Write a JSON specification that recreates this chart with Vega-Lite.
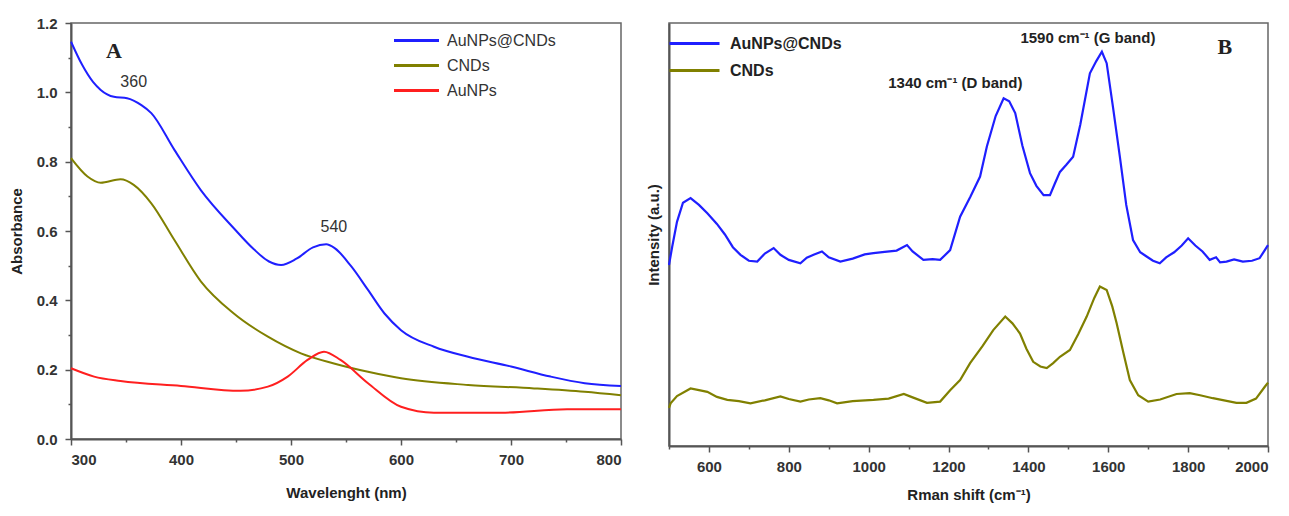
{
  "$schema": "https://vega.github.io/schema/vega-lite/v6.json",
  "padding": {"left": 8, "top": 15, "right": 5, "bottom": 5},
  "background": "white",
  "bounds": "flush",
  "spacing": 48,
  "resolve": {"scale": {"color": "independent"}, "legend": {"color": "independent"}},
  "config": {
    "font": "Liberation Sans",
    "view": {"stroke": "#666", "strokeWidth": 1.5},
    "axis": {
      "domainColor": "#555", "domainWidth": 2, "tickColor": "#555", "tickWidth": 1.5,
      "labelFont": "Liberation Sans", "labelFontWeight": "bold", "labelFontSize": 15, "labelColor": "#333",
      "titleFont": "Liberation Sans", "titleFontWeight": "bold", "titleFontSize": 15, "titleColor": "#222",
      "grid": false
    }
  },
  "datasets": {
    "uv": [
      {"wl": 300, "abs": 1.146, "sample": "AuNPs@CNDs"}, {"wl": 310, "abs": 1.08, "sample": "AuNPs@CNDs"}, {"wl": 320, "abs": 1.03, "sample": "AuNPs@CNDs"}, {"wl": 327, "abs": 1.007, "sample": "AuNPs@CNDs"}, {"wl": 339, "abs": 0.987, "sample": "AuNPs@CNDs"}, {"wl": 351, "abs": 0.983, "sample": "AuNPs@CNDs"}, {"wl": 364, "abs": 0.963, "sample": "AuNPs@CNDs"}, {"wl": 373, "abs": 0.94, "sample": "AuNPs@CNDs"}, {"wl": 394, "abs": 0.834, "sample": "AuNPs@CNDs"}, {"wl": 418, "abs": 0.718, "sample": "AuNPs@CNDs"}, {"wl": 448, "abs": 0.608, "sample": "AuNPs@CNDs"}, {"wl": 466, "abs": 0.548, "sample": "AuNPs@CNDs"}, {"wl": 480, "abs": 0.512, "sample": "AuNPs@CNDs"}, {"wl": 491, "abs": 0.502, "sample": "AuNPs@CNDs"}, {"wl": 505, "abs": 0.52, "sample": "AuNPs@CNDs"}, {"wl": 520, "abs": 0.553, "sample": "AuNPs@CNDs"}, {"wl": 532, "abs": 0.562, "sample": "AuNPs@CNDs"}, {"wl": 540, "abs": 0.55, "sample": "AuNPs@CNDs"}, {"wl": 555, "abs": 0.497, "sample": "AuNPs@CNDs"}, {"wl": 570, "abs": 0.43, "sample": "AuNPs@CNDs"}, {"wl": 585, "abs": 0.362, "sample": "AuNPs@CNDs"}, {"wl": 600, "abs": 0.314, "sample": "AuNPs@CNDs"}, {"wl": 630, "abs": 0.266, "sample": "AuNPs@CNDs"}, {"wl": 661, "abs": 0.237, "sample": "AuNPs@CNDs"}, {"wl": 700, "abs": 0.209, "sample": "AuNPs@CNDs"}, {"wl": 736, "abs": 0.18, "sample": "AuNPs@CNDs"}, {"wl": 767, "abs": 0.161, "sample": "AuNPs@CNDs"}, {"wl": 800, "abs": 0.153, "sample": "AuNPs@CNDs"},
      {"wl": 300, "abs": 0.81, "sample": "CNDs"}, {"wl": 315, "abs": 0.757, "sample": "CNDs"}, {"wl": 327, "abs": 0.739, "sample": "CNDs"}, {"wl": 345, "abs": 0.749, "sample": "CNDs"}, {"wl": 357, "abs": 0.733, "sample": "CNDs"}, {"wl": 373, "abs": 0.68, "sample": "CNDs"}, {"wl": 394, "abs": 0.574, "sample": "CNDs"}, {"wl": 418, "abs": 0.455, "sample": "CNDs"}, {"wl": 448, "abs": 0.362, "sample": "CNDs"}, {"wl": 479, "abs": 0.295, "sample": "CNDs"}, {"wl": 509, "abs": 0.247, "sample": "CNDs"}, {"wl": 539, "abs": 0.218, "sample": "CNDs"}, {"wl": 570, "abs": 0.194, "sample": "CNDs"}, {"wl": 600, "abs": 0.175, "sample": "CNDs"}, {"wl": 661, "abs": 0.156, "sample": "CNDs"}, {"wl": 721, "abs": 0.146, "sample": "CNDs"}, {"wl": 767, "abs": 0.136, "sample": "CNDs"}, {"wl": 800, "abs": 0.126, "sample": "CNDs"},
      {"wl": 300, "abs": 0.204, "sample": "AuNPs"}, {"wl": 321, "abs": 0.18, "sample": "AuNPs"}, {"wl": 345, "abs": 0.167, "sample": "AuNPs"}, {"wl": 400, "abs": 0.153, "sample": "AuNPs"}, {"wl": 454, "abs": 0.139, "sample": "AuNPs"}, {"wl": 479, "abs": 0.151, "sample": "AuNPs"}, {"wl": 497, "abs": 0.18, "sample": "AuNPs"}, {"wl": 515, "abs": 0.228, "sample": "AuNPs"}, {"wl": 530, "abs": 0.252, "sample": "AuNPs"}, {"wl": 545, "abs": 0.228, "sample": "AuNPs"}, {"wl": 570, "abs": 0.161, "sample": "AuNPs"}, {"wl": 600, "abs": 0.093, "sample": "AuNPs"}, {"wl": 630, "abs": 0.076, "sample": "AuNPs"}, {"wl": 691, "abs": 0.076, "sample": "AuNPs"}, {"wl": 751, "abs": 0.086, "sample": "AuNPs"}, {"wl": 800, "abs": 0.086, "sample": "AuNPs"}
    ],
    "uvNum": [
      {"wl": 357, "abs": 1.03, "label": "360"},
      {"wl": 539, "abs": 0.611, "label": "540"}
    ],
    "uvLetter": [
      {"wl": 339, "abs": 1.12, "label": "A"}
    ],
    "raman": [
      {"s": 500, "i": 42.8, "sample": "AuNPs@CNDs"}, {"s": 508, "i": 47.1, "sample": "AuNPs@CNDs"}, {"s": 520, "i": 53, "sample": "AuNPs@CNDs"}, {"s": 535, "i": 57.5, "sample": "AuNPs@CNDs"}, {"s": 554, "i": 58.6, "sample": "AuNPs@CNDs"}, {"s": 575, "i": 57, "sample": "AuNPs@CNDs"}, {"s": 596, "i": 55, "sample": "AuNPs@CNDs"}, {"s": 620, "i": 52.5, "sample": "AuNPs@CNDs"}, {"s": 640, "i": 50, "sample": "AuNPs@CNDs"}, {"s": 660, "i": 47, "sample": "AuNPs@CNDs"}, {"s": 679, "i": 45.2, "sample": "AuNPs@CNDs"}, {"s": 700, "i": 43.8, "sample": "AuNPs@CNDs"}, {"s": 721, "i": 43.6, "sample": "AuNPs@CNDs"}, {"s": 740, "i": 45.5, "sample": "AuNPs@CNDs"}, {"s": 762, "i": 46.8, "sample": "AuNPs@CNDs"}, {"s": 779, "i": 45.2, "sample": "AuNPs@CNDs"}, {"s": 800, "i": 44, "sample": "AuNPs@CNDs"}, {"s": 829, "i": 43.2, "sample": "AuNPs@CNDs"}, {"s": 845, "i": 44.5, "sample": "AuNPs@CNDs"}, {"s": 862, "i": 45.2, "sample": "AuNPs@CNDs"}, {"s": 883, "i": 46, "sample": "AuNPs@CNDs"}, {"s": 900, "i": 44.6, "sample": "AuNPs@CNDs"}, {"s": 929, "i": 43.6, "sample": "AuNPs@CNDs"}, {"s": 960, "i": 44.3, "sample": "AuNPs@CNDs"}, {"s": 990, "i": 45.3, "sample": "AuNPs@CNDs"}, {"s": 1012, "i": 45.6, "sample": "AuNPs@CNDs"}, {"s": 1040, "i": 45.9, "sample": "AuNPs@CNDs"}, {"s": 1070, "i": 46.2, "sample": "AuNPs@CNDs"}, {"s": 1096, "i": 47.5, "sample": "AuNPs@CNDs"}, {"s": 1110, "i": 46, "sample": "AuNPs@CNDs"}, {"s": 1137, "i": 44, "sample": "AuNPs@CNDs"}, {"s": 1160, "i": 44.2, "sample": "AuNPs@CNDs"}, {"s": 1179, "i": 44, "sample": "AuNPs@CNDs"}, {"s": 1204, "i": 46.3, "sample": "AuNPs@CNDs"}, {"s": 1229, "i": 54.2, "sample": "AuNPs@CNDs"}, {"s": 1255, "i": 59, "sample": "AuNPs@CNDs"}, {"s": 1279, "i": 63.7, "sample": "AuNPs@CNDs"}, {"s": 1296, "i": 70.8, "sample": "AuNPs@CNDs"}, {"s": 1318, "i": 78, "sample": "AuNPs@CNDs"}, {"s": 1338, "i": 82.2, "sample": "AuNPs@CNDs"}, {"s": 1352, "i": 81.5, "sample": "AuNPs@CNDs"}, {"s": 1367, "i": 78.7, "sample": "AuNPs@CNDs"}, {"s": 1385, "i": 71, "sample": "AuNPs@CNDs"}, {"s": 1404, "i": 64.5, "sample": "AuNPs@CNDs"}, {"s": 1420, "i": 61.5, "sample": "AuNPs@CNDs"}, {"s": 1438, "i": 59.3, "sample": "AuNPs@CNDs"}, {"s": 1454, "i": 59.3, "sample": "AuNPs@CNDs"}, {"s": 1466, "i": 62, "sample": "AuNPs@CNDs"}, {"s": 1479, "i": 64.8, "sample": "AuNPs@CNDs"}, {"s": 1495, "i": 66.5, "sample": "AuNPs@CNDs"}, {"s": 1512, "i": 68.4, "sample": "AuNPs@CNDs"}, {"s": 1530, "i": 76, "sample": "AuNPs@CNDs"}, {"s": 1554, "i": 88.1, "sample": "AuNPs@CNDs"}, {"s": 1570, "i": 91, "sample": "AuNPs@CNDs"}, {"s": 1584, "i": 93.2, "sample": "AuNPs@CNDs"}, {"s": 1596, "i": 90.5, "sample": "AuNPs@CNDs"}, {"s": 1612, "i": 80, "sample": "AuNPs@CNDs"}, {"s": 1629, "i": 68.4, "sample": "AuNPs@CNDs"}, {"s": 1645, "i": 57, "sample": "AuNPs@CNDs"}, {"s": 1662, "i": 48.7, "sample": "AuNPs@CNDs"}, {"s": 1680, "i": 45.8, "sample": "AuNPs@CNDs"}, {"s": 1696, "i": 44.8, "sample": "AuNPs@CNDs"}, {"s": 1712, "i": 43.8, "sample": "AuNPs@CNDs"}, {"s": 1729, "i": 43.2, "sample": "AuNPs@CNDs"}, {"s": 1745, "i": 44.6, "sample": "AuNPs@CNDs"}, {"s": 1765, "i": 45.8, "sample": "AuNPs@CNDs"}, {"s": 1784, "i": 47.4, "sample": "AuNPs@CNDs"}, {"s": 1800, "i": 49.1, "sample": "AuNPs@CNDs"}, {"s": 1818, "i": 47.4, "sample": "AuNPs@CNDs"}, {"s": 1836, "i": 46, "sample": "AuNPs@CNDs"}, {"s": 1854, "i": 44, "sample": "AuNPs@CNDs"}, {"s": 1870, "i": 44.6, "sample": "AuNPs@CNDs"}, {"s": 1880, "i": 43.4, "sample": "AuNPs@CNDs"}, {"s": 1896, "i": 43.6, "sample": "AuNPs@CNDs"}, {"s": 1915, "i": 44.1, "sample": "AuNPs@CNDs"}, {"s": 1937, "i": 43.6, "sample": "AuNPs@CNDs"}, {"s": 1960, "i": 43.8, "sample": "AuNPs@CNDs"}, {"s": 1979, "i": 44.4, "sample": "AuNPs@CNDs"}, {"s": 1992, "i": 46.3, "sample": "AuNPs@CNDs"}, {"s": 2000, "i": 47.5, "sample": "AuNPs@CNDs"},
      {"s": 500, "i": 9, "sample": "CNDs"}, {"s": 504, "i": 10.1, "sample": "CNDs"}, {"s": 520, "i": 11.8, "sample": "CNDs"}, {"s": 554, "i": 13.6, "sample": "CNDs"}, {"s": 575, "i": 13.2, "sample": "CNDs"}, {"s": 596, "i": 12.8, "sample": "CNDs"}, {"s": 620, "i": 11.6, "sample": "CNDs"}, {"s": 646, "i": 10.9, "sample": "CNDs"}, {"s": 675, "i": 10.6, "sample": "CNDs"}, {"s": 704, "i": 10.1, "sample": "CNDs"}, {"s": 740, "i": 10.8, "sample": "CNDs"}, {"s": 779, "i": 11.7, "sample": "CNDs"}, {"s": 800, "i": 11.1, "sample": "CNDs"}, {"s": 829, "i": 10.5, "sample": "CNDs"}, {"s": 850, "i": 11, "sample": "CNDs"}, {"s": 879, "i": 11.3, "sample": "CNDs"}, {"s": 900, "i": 10.8, "sample": "CNDs"}, {"s": 921, "i": 10.1, "sample": "CNDs"}, {"s": 960, "i": 10.6, "sample": "CNDs"}, {"s": 1012, "i": 10.9, "sample": "CNDs"}, {"s": 1050, "i": 11.2, "sample": "CNDs"}, {"s": 1088, "i": 12.3, "sample": "CNDs"}, {"s": 1110, "i": 11.5, "sample": "CNDs"}, {"s": 1146, "i": 10.2, "sample": "CNDs"}, {"s": 1179, "i": 10.5, "sample": "CNDs"}, {"s": 1204, "i": 13.2, "sample": "CNDs"}, {"s": 1229, "i": 15.6, "sample": "CNDs"}, {"s": 1254, "i": 19.6, "sample": "CNDs"}, {"s": 1285, "i": 23.6, "sample": "CNDs"}, {"s": 1312, "i": 27.4, "sample": "CNDs"}, {"s": 1342, "i": 30.6, "sample": "CNDs"}, {"s": 1360, "i": 29, "sample": "CNDs"}, {"s": 1379, "i": 26.6, "sample": "CNDs"}, {"s": 1395, "i": 23, "sample": "CNDs"}, {"s": 1412, "i": 19.9, "sample": "CNDs"}, {"s": 1430, "i": 18.8, "sample": "CNDs"}, {"s": 1446, "i": 18.4, "sample": "CNDs"}, {"s": 1462, "i": 19.6, "sample": "CNDs"}, {"s": 1479, "i": 21.1, "sample": "CNDs"}, {"s": 1504, "i": 22.7, "sample": "CNDs"}, {"s": 1525, "i": 26.5, "sample": "CNDs"}, {"s": 1546, "i": 30.6, "sample": "CNDs"}, {"s": 1565, "i": 35, "sample": "CNDs"}, {"s": 1579, "i": 37.7, "sample": "CNDs"}, {"s": 1596, "i": 36.9, "sample": "CNDs"}, {"s": 1610, "i": 33, "sample": "CNDs"}, {"s": 1621, "i": 29, "sample": "CNDs"}, {"s": 1638, "i": 22, "sample": "CNDs"}, {"s": 1654, "i": 15.6, "sample": "CNDs"}, {"s": 1675, "i": 12, "sample": "CNDs"}, {"s": 1700, "i": 10.5, "sample": "CNDs"}, {"s": 1730, "i": 11, "sample": "CNDs"}, {"s": 1771, "i": 12.3, "sample": "CNDs"}, {"s": 1804, "i": 12.5, "sample": "CNDs"}, {"s": 1830, "i": 12, "sample": "CNDs"}, {"s": 1862, "i": 11.3, "sample": "CNDs"}, {"s": 1890, "i": 10.8, "sample": "CNDs"}, {"s": 1921, "i": 10.2, "sample": "CNDs"}, {"s": 1946, "i": 10.2, "sample": "CNDs"}, {"s": 1970, "i": 11.2, "sample": "CNDs"}, {"s": 1992, "i": 14, "sample": "CNDs"}, {"s": 2000, "i": 15, "sample": "CNDs"}
    ],
    "ramanBand": [
      {"s": 1217, "i": 85.8, "label": "1340 cm⁻¹ (D band)"},
      {"s": 1549, "i": 96.5, "label": "1590 cm⁻¹ (G band)"}
    ],
    "ramanLetter": [
      {"s": 1892, "i": 94.3, "label": "B"}
    ]
  },
  "hconcat": [
    {
      "width": 550,
      "height": 416,
      "layer": [
        {
          "data": {"name": "uv"},
          "mark": {"type": "line", "strokeWidth": 2, "interpolate": "monotone"},
          "encoding": {
            "x": {"field": "wl", "type": "quantitative", "scale": {"domain": [300, 800], "nice": false},
              "axis": {"title": "Wavelenght (nm)", "values": [300, 400, 500, 600, 700, 800], "tickSize": 6, "labelPadding": 7, "titlePadding": 18}},
            "y": {"field": "abs", "type": "quantitative", "scale": {"domain": [0, 1.2], "nice": false},
              "axis": {"title": "Absorbance", "values": [0, 0.2, 0.4, 0.6, 0.8, 1.0, 1.2], "format": ".1f", "tickSize": 6, "labelPadding": 8, "titlePadding": 12}},
            "color": {"field": "sample", "type": "nominal",
              "scale": {"domain": ["AuNPs@CNDs", "CNDs", "AuNPs"], "range": ["#1f1fff", "#808000", "#ff1f1f"]},
              "legend": {"title": null, "orient": "none", "legendX": 335, "legendY": 7, "symbolType": "M-2.5,0H2.5", "symbolSize": 324, "symbolStrokeWidth": 3, "labelFontSize": 16, "labelFontWeight": "normal", "labelFont": "Liberation Sans", "labelColor": "#333", "labelOffset": 20, "rowPadding": 6, "padding": 0}}
          }
        },
        {
          "data": {"name": "uvNum"},
          "mark": {"type": "text", "fontSize": 16, "color": "#333", "font": "Liberation Sans"},
          "encoding": {
            "x": {"field": "wl", "type": "quantitative", "axis": {"orient": "bottom", "values": [350, 450, 550, 650, 750], "labels": false, "domain": false, "tickSize": 3, "title": null}},
            "y": {"field": "abs", "type": "quantitative", "axis": {"orient": "left", "values": [0.1, 0.3, 0.5, 0.7, 0.9, 1.1], "labels": false, "domain": false, "tickSize": 3, "title": null}},
            "text": {"field": "label"}
          }
        },
        {
          "data": {"name": "uvLetter"},
          "mark": {"type": "text", "fontSize": 22, "fontWeight": "bold", "color": "#222", "font": "Liberation Serif"},
          "encoding": {
            "x": {"field": "wl", "type": "quantitative", "axis": null},
            "y": {"field": "abs", "type": "quantitative", "axis": null},
            "text": {"field": "label"}
          }
        }
      ],
      "resolve": {"axis": {"x": "independent", "y": "independent"}}
    },
    {
      "width": 599,
      "height": 423,
      "layer": [
        {
          "data": {"name": "raman"},
          "mark": {"type": "line", "strokeWidth": 2.2},
          "encoding": {
            "x": {"field": "s", "type": "quantitative", "scale": {"domain": [500, 2000], "nice": false},
              "axis": {"title": "Rman shift (cm⁻¹)", "values": [600, 800, 1000, 1200, 1400, 1600, 1800, 2000], "format": "d", "tickSize": 6, "labelPadding": 7, "titlePadding": 13}},
            "y": {"field": "i", "type": "quantitative", "scale": {"domain": [0, 100], "nice": false},
              "axis": {"title": "Intensity (a.u.)", "values": [], "labels": false, "ticks": false, "titlePadding": 8}},
            "color": {"field": "sample", "type": "nominal",
              "scale": {"domain": ["AuNPs@CNDs", "CNDs"], "range": ["#1f1fff", "#808000"]},
              "legend": {"title": null, "orient": "none", "legendX": 14, "legendY": 9, "symbolType": "M-2.5,0H2.5", "symbolSize": 400, "symbolStrokeWidth": 3, "labelFontSize": 16, "labelFontWeight": "bold", "labelFont": "Liberation Sans", "labelColor": "#222", "labelOffset": 24, "rowPadding": 7, "padding": 0}}
          }
        },
        {
          "data": {"name": "ramanBand"},
          "mark": {"type": "text", "fontSize": 15, "fontWeight": "bold", "color": "#222", "font": "Liberation Sans"},
          "encoding": {
            "x": {"field": "s", "type": "quantitative", "axis": {"orient": "bottom", "values": [500, 700, 900, 1100, 1300, 1500, 1700, 1900], "labels": false, "domain": false, "tickSize": 3, "title": null}},
            "y": {"field": "i", "type": "quantitative", "axis": null},
            "text": {"field": "label"}
          }
        },
        {
          "data": {"name": "ramanLetter"},
          "mark": {"type": "text", "fontSize": 22, "fontWeight": "bold", "color": "#222", "font": "Liberation Serif"},
          "encoding": {
            "x": {"field": "s", "type": "quantitative", "axis": null},
            "y": {"field": "i", "type": "quantitative", "axis": null},
            "text": {"field": "label"}
          }
        }
      ],
      "resolve": {"axis": {"x": "independent", "y": "independent"}}
    }
  ]
}
